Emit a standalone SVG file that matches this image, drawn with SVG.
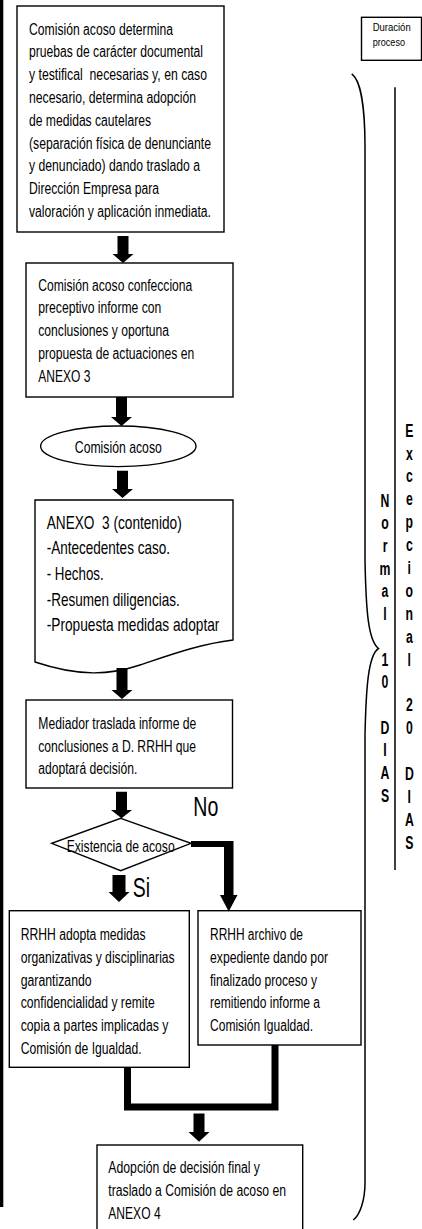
<svg xmlns="http://www.w3.org/2000/svg" width="422" height="1229" viewBox="0 0 422 1229">
<style>
.box{fill:#fff;stroke:#000;stroke-width:1.4}
.t{font-family:"Liberation Sans",Arial,sans-serif;font-size:16px;fill:#000}
.doc{font-size:19px}
.big{font-size:27px}
.sm{font-size:11px}
.v{font-family:"Liberation Sans",Arial,sans-serif;font-size:18px;font-weight:bold;fill:#000;text-anchor:middle}
.arr{fill:#000;stroke:none}
.thin{fill:none;stroke:#000;stroke-width:1.5}
</style>
<rect x="0" y="0" width="3.3" height="1207" fill="#000"/>

<g id="duracion">
<rect class="box" x="361.5" y="17.3" width="60" height="43"/>
<text class="t sm" x="372.7" y="30.5" textLength="38" lengthAdjust="spacingAndGlyphs">Duración</text>
<text class="t sm" x="372.7" y="46" textLength="32.3" lengthAdjust="spacingAndGlyphs">proceso</text>
</g>

<g id="n1">
<rect class="box" x="17" y="6" width="207" height="226"/>
<text class="t" x="29" y="34.5" textLength="144" lengthAdjust="spacingAndGlyphs">Comisión acoso determina</text>
<text class="t" x="29" y="57.3" textLength="174" lengthAdjust="spacingAndGlyphs">pruebas de carácter documental</text>
<text class="t" x="29" y="80.1" textLength="178" lengthAdjust="spacingAndGlyphs" xml:space="preserve">y testifical  necesarias y, en caso</text>
<text class="t" x="29" y="102.9" textLength="167" lengthAdjust="spacingAndGlyphs">necesario, determina adopción</text>
<text class="t" x="29" y="125.7" textLength="122" lengthAdjust="spacingAndGlyphs">de medidas cautelares</text>
<text class="t" x="29" y="148.5" textLength="182" lengthAdjust="spacingAndGlyphs">(separación física de denunciante</text>
<text class="t" x="29" y="171.3" textLength="171" lengthAdjust="spacingAndGlyphs">y denunciado) dando traslado a</text>
<text class="t" x="29" y="194.1" textLength="130" lengthAdjust="spacingAndGlyphs">Dirección Empresa para</text>
<text class="t" x="29" y="216.9" textLength="182" lengthAdjust="spacingAndGlyphs">valoración y aplicación inmediata.</text>
</g>

<g id="n2">
<rect class="box" x="26" y="263" width="207" height="134"/>
<text class="t" x="38.3" y="290.5" textLength="154" lengthAdjust="spacingAndGlyphs">Comisión acoso confecciona</text>
<text class="t" x="38.3" y="313.3" textLength="123" lengthAdjust="spacingAndGlyphs">preceptivo informe con</text>
<text class="t" x="38.3" y="336.1" textLength="130.7" lengthAdjust="spacingAndGlyphs">conclusiones y oportuna</text>
<text class="t" x="38.3" y="358.9" textLength="156" lengthAdjust="spacingAndGlyphs">propuesta de actuaciones en</text>
<text class="t" x="38.3" y="381.7" textLength="52" lengthAdjust="spacingAndGlyphs">ANEXO 3</text>
</g>

<g id="n3">
<ellipse class="box" cx="118.3" cy="446.3" rx="77.7" ry="20.3"/>
<text class="t" style="font-size:17px" x="74.8" y="452.5" textLength="87" lengthAdjust="spacingAndGlyphs">Comisión acoso</text>
</g>

<g id="n4">
<path class="box" d="M35,500 H233 V640 C200,644 170,655 140,665 C110,675 80,677 35,662 Z"/>
<text class="t doc" x="46.7" y="529.3" textLength="135" lengthAdjust="spacingAndGlyphs" xml:space="preserve">ANEXO  3 (contenido)</text>
<text class="t doc" x="46.7" y="554.3" textLength="123.3" lengthAdjust="spacingAndGlyphs">-Antecedentes caso.</text>
<text class="t doc" x="46.7" y="580" textLength="57" lengthAdjust="spacingAndGlyphs">- Hechos.</text>
<text class="t doc" x="46.7" y="605.5" textLength="133" lengthAdjust="spacingAndGlyphs">-Resumen diligencias.</text>
<text class="t doc" x="46.7" y="630.7" textLength="172.7" lengthAdjust="spacingAndGlyphs">-Propuesta medidas adoptar</text>
</g>

<g id="n5">
<rect class="box" x="26" y="700" width="206.5" height="88"/>
<text class="t" x="38.3" y="728.5" textLength="158" lengthAdjust="spacingAndGlyphs">Mediador traslada informe de</text>
<text class="t" x="38.3" y="751.5" textLength="157.7" lengthAdjust="spacingAndGlyphs">conclusiones a D. RRHH que</text>
<text class="t" x="38.3" y="774" textLength="99" lengthAdjust="spacingAndGlyphs">adoptará decisión.</text>
</g>

<g id="n6">
<polygon class="box" points="120.7,818.3 191,843.3 120.7,870.7 51.7,843.3"/>
<text class="t" x="66.7" y="851.5" textLength="108" lengthAdjust="spacingAndGlyphs">Existencia de acoso</text>
</g>

<g id="n7">
<rect class="box" x="9.3" y="910.7" width="180" height="156.6"/>
<text class="t" x="20.7" y="940" textLength="125" lengthAdjust="spacingAndGlyphs">RRHH adopta medidas</text>
<text class="t" x="20.7" y="962.8" textLength="154" lengthAdjust="spacingAndGlyphs">organizativas y disciplinarias</text>
<text class="t" x="20.7" y="985.6" textLength="71" lengthAdjust="spacingAndGlyphs">garantizando</text>
<text class="t" x="20.7" y="1008.4" textLength="134" lengthAdjust="spacingAndGlyphs">confidencialidad y remite</text>
<text class="t" x="20.7" y="1031.2" textLength="147.7" lengthAdjust="spacingAndGlyphs">copia a partes implicadas y</text>
<text class="t" x="20.7" y="1054" textLength="121" lengthAdjust="spacingAndGlyphs">Comisión de Igualdad.</text>
</g>

<g id="n8">
<rect class="box" x="198" y="910.7" width="163" height="134.3"/>
<text class="t" x="210" y="940" textLength="93" lengthAdjust="spacingAndGlyphs">RRHH archivo de</text>
<text class="t" x="210" y="962.8" textLength="118" lengthAdjust="spacingAndGlyphs">expediente dando por</text>
<text class="t" x="210" y="985.6" textLength="107" lengthAdjust="spacingAndGlyphs">finalizado proceso y</text>
<text class="t" x="210" y="1008.4" textLength="110" lengthAdjust="spacingAndGlyphs">remitiendo informe a</text>
<text class="t" x="210" y="1031.2" textLength="103" lengthAdjust="spacingAndGlyphs">Comisión Igualdad.</text>
</g>

<g id="n9">
<rect class="box" x="97" y="1145" width="205.7" height="100"/>
<text class="t" x="108.3" y="1173.3" textLength="151.7" lengthAdjust="spacingAndGlyphs">Adopción de decisión final y</text>
<text class="t" x="108.3" y="1196" textLength="177.7" lengthAdjust="spacingAndGlyphs">traslado a Comisión de acoso en</text>
<text class="t" x="108.3" y="1219.3" textLength="52.3" lengthAdjust="spacingAndGlyphs">ANEXO 4</text>
</g>

<g id="connectors">
<polygon class="arr" points="117.5,236 128.5,236 128.5,254 133.5,254 123,263 112.5,254 117.5,254"/>
<polygon class="arr" points="116,397 127,397 127,417 132,417 121.5,426 111,417 116,417"/>
<polygon class="arr" points="117,470.7 128,470.7 128,489 133,489 122.5,498 112,489 117,489"/>
<polygon class="arr" points="116.5,668 127.5,668 127.5,690 132.5,690 122,699 111.5,690 116.5,690"/>
<polygon class="arr" points="116,791.7 127,791.7 127,810 132,810 121.5,818.3 111,810 116,810"/>
<polygon class="arr" points="112.5,875 125.5,875 125.5,892 129.5,892 119,902 108.5,892 112.5,892"/>
<polygon class="arr" points="191,841 233.5,841 233.5,895 237.5,895 228.7,911.5 220,895 224,895 224,847 191,847"/>
<path d="M127.5,1067 V1107 H275 V1045" fill="none" stroke="#000" stroke-width="7"/>
<polygon class="arr" points="193.5,1113.5 204.5,1113.5 204.5,1132 209.5,1132 199,1141.7 188.5,1132 193.5,1132"/>
</g>

<g id="labels">
<text class="t big" x="193.3" y="816" textLength="25" lengthAdjust="spacingAndGlyphs">No</text>
<text class="t big" style="font-size:28px" x="132.7" y="896.7" textLength="17.3" lengthAdjust="spacingAndGlyphs">Si</text>
</g>

<g id="duration-brace">
<path class="thin" d="M351.7,74 C361,80 365,110 365,147 V560 C366,610 368,640 378.5,648.5 C368,655 366,690 365,735 V1183 C365,1200 360,1215 353.3,1220"/>
<line class="thin" x1="395" y1="87.3" x2="395" y2="870"/>
</g>

<g id="normal" transform="translate(385,0) scale(0.68,1)">
<text class="v" x="0" y="506.7">N</text>
<text class="v" x="0" y="529.4">o</text>
<text class="v" x="0" y="552.1">r</text>
<text class="v" x="0" y="574.8">m</text>
<text class="v" x="0" y="597.5">a</text>
<text class="v" x="0" y="620.2">l</text>
<text class="v" x="0" y="665.6">1</text>
<text class="v" x="0" y="688.3">0</text>
<text class="v" x="0" y="733.7">D</text>
<text class="v" x="0" y="756.4">I</text>
<text class="v" x="0" y="779.1">A</text>
<text class="v" x="0" y="801.8">S</text>
</g>

<g id="excepcional" transform="translate(409.3,0) scale(0.68,1)">
<text class="v" x="0" y="436.7">E</text>
<text class="v" x="0" y="459.6">x</text>
<text class="v" x="0" y="482.5">c</text>
<text class="v" x="0" y="505.4">e</text>
<text class="v" x="0" y="528.3">p</text>
<text class="v" x="0" y="551.2">c</text>
<text class="v" x="0" y="574.1">i</text>
<text class="v" x="0" y="597">o</text>
<text class="v" x="0" y="619.9">n</text>
<text class="v" x="0" y="642.8">a</text>
<text class="v" x="0" y="665.7">l</text>
<text class="v" x="0" y="711.5">2</text>
<text class="v" x="0" y="734.4">0</text>
<text class="v" x="0" y="780.2">D</text>
<text class="v" x="0" y="803.1">I</text>
<text class="v" x="0" y="826">A</text>
<text class="v" x="0" y="848.9">S</text>
</g>
</svg>
